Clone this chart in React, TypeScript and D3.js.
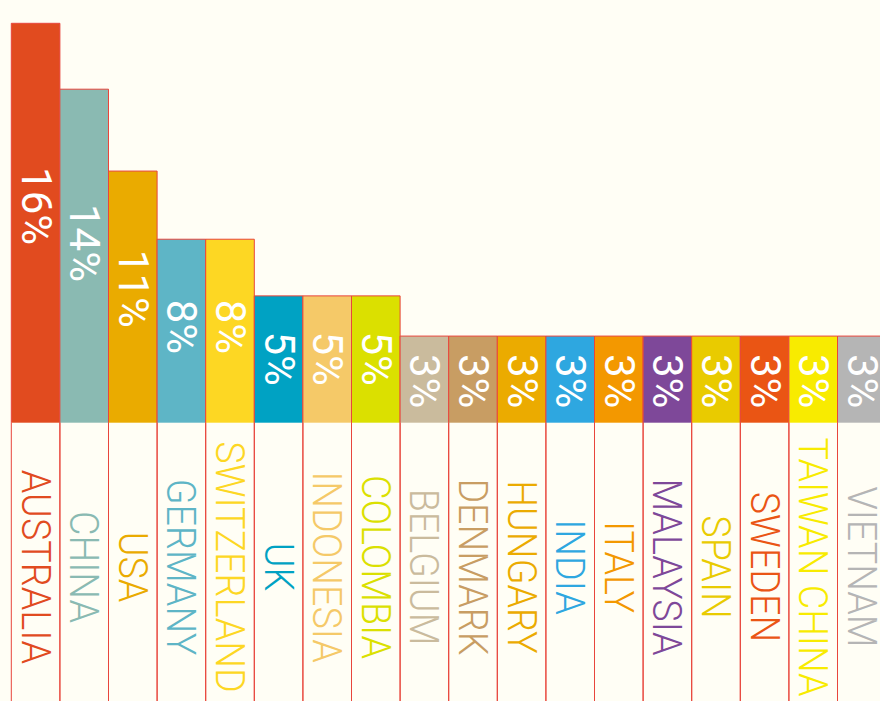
import React from 'react';
import * as d3 from 'd3';

// countries in display order
const countries = [
  'AUSTRALIA', 'CHINA', 'USA', 'GERMANY', 'SWITZERLAND', 'UK', 'INDONESIA', 'COLOMBIA',
  'BELGIUM', 'DENMARK', 'HUNGARY', 'INDIA', 'ITALY', 'MALAYSIA', 'SPAIN', 'SWEDEN',
  'TAIWAN CHINA', 'VIETNAM',
];
// bar heights (share, %)
const shares = [16, 13.36, 10.08, 7.35, 7.35, 5.08, 5.08, 5.08, 3.47, 3.47, 3.47, 3.47, 3.47, 3.47, 3.47, 3.47, 3.47, 3.47];
// the printed labels
const labels = ['16%', '14%', '11%', '8%', '8%', '5%', '5%', '5%', '3%', '3%', '3%', '3%', '3%', '3%', '3%', '3%', '3%', '3%'];
const colors = [
  '#e14b1f', '#8abab2', '#eaab00', '#5eb5c6', '#fdd723', '#00a2c3', '#f5c968', '#dbe000',
  '#cabb9d', '#c89d63', '#ebab00', '#2ea7e0', '#f39800', '#7e4899', '#e9cb00', '#ea5514',
  '#f8eb00', '#b5b5b5',
];

const W = 880;
const H = 701;
const left = 11.3;
const band = 48.6;
const base = 422.7;
const border = '#e8453c';

export default function App() {
  const x = d3.scaleBand<string>()
    .domain(countries)
    .range([left, left + band * countries.length])
    .padding(0);

  const y = d3.scaleLinear()
    .domain([0, 16])
    .range([base, 23.3]);

  const bw = x.bandwidth();

  return (
    <svg width={W} height={H} style={{ position: 'absolute', left: 0, top: 0, display: 'block' }}>
      <rect x={0} y={0} width={W} height={H} fill="#fffef5" />
      {countries.map((c, i) => {
        const x0 = x(c) as number;
        const top = y(shares[i]);
        const h = base - top;
        const cx = x0 + bw / 2;
        const ly = top + 0.44 * h + 7;
        return (
          <g key={c}>
            <rect x={x0} y={top} width={bw} height={h} fill={colors[i]} />
            <path
              d={`M${x0},${base}V${top}H${x0 + bw}V${base}`}
              fill="none"
              stroke={border}
              strokeWidth={1}
            />
            <text
              transform={`translate(${cx + 0.5},${ly}) rotate(90)`}
              textAnchor="middle"
              dominantBaseline="central"
              fill="#ffffff"
              fontFamily="Roboto, 'DejaVu Sans', sans-serif"
              fontSize={42}
            >
              {labels[i]}
            </text>
            <line x1={x0} x2={x0} y1={base} y2={H} stroke={border} strokeWidth={1} />
            <line x1={x0 + bw} x2={x0 + bw} y1={base} y2={H} stroke={border} strokeWidth={1} />
            <text
              transform={`translate(${cx},567) rotate(90) scale(0.92,1)`}
              textAnchor="middle"
              dominantBaseline="central"
              fill={colors[i]}
              fontFamily="Roboto, 'DejaVu Sans', sans-serif"
              fontWeight={300}
              fontSize={41}
            >
              {c}
            </text>
          </g>
        );
      })}
    </svg>
  );
}
